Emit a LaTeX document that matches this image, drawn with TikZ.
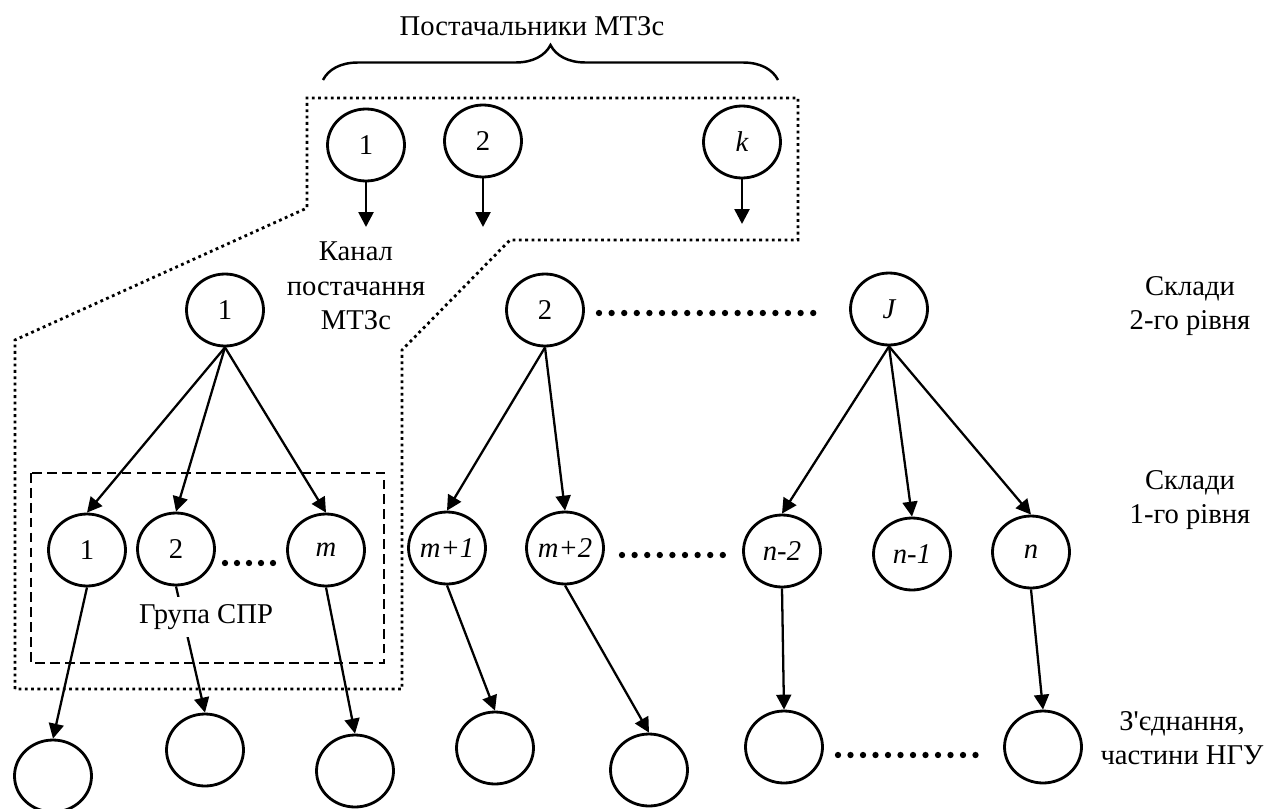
\documentclass[tikz,border=0pt]{standalone}
\usepackage{fontspec}
\setmainfont{Liberation Serif}
\usetikzlibrary{shapes.geometric, arrows.meta, decorations.pathreplacing}

\begin{document}
\begin{tikzpicture}[x=0.02cm, y=-0.02cm, font=\fontsize{16.3}{19.6}\selectfont,
  circ/.style={ellipse, draw, line width=1.6pt, minimum width=1.54cm, minimum height=1.44cm, inner sep=0pt},
  arr/.style={-{Triangle[length=8.5pt,width=8.5pt]}, line width=1.3pt},
  lbl/.style={align=center}]
\useasboundingbox (0,0) rectangle (1274,808);
\draw[dotted, line width=1.6pt] (15,689) -- (15,340) -- (307,208) -- (307,98) -- (798,98) -- (798,240) -- (510,240) -- (402,350) -- (402,689) -- cycle;
\draw[dash pattern=on 5.5pt off 3pt, line width=1pt] (31,473) rectangle (384,663);
\node (title) at (532,26) {Постачальники МТЗс};
\draw[decorate, decoration={brace, amplitude=0.7cm}, line width=1.4pt] (323,80) -- (778,80);
\node[circ] (T1) at (366,145) {1};
\node[circ] (T2) at (483,141) {2};
\node[circ] (Tk) at (742,142) {\itshape k};
\coordinate (a1) at (366,227);
\coordinate (a2) at (483,227);
\coordinate (ak) at (742,224);
\draw[arr, line width=1.5pt] (T1.south) -- (a1);
\draw[arr, line width=1.5pt] (T2.south) -- (a2);
\draw[arr, line width=1.5pt] (Tk.south) -- (ak);
\node[lbl] (chan) at (356,286) {Канал\\постачання\\МТЗс};
\node[circ] (c1) at (225,310) {1};
\node[circ] (c2) at (545,310) {2};
\node[circ] (cJ) at (889,309) {\itshape J};
\node[circ] (d1) at (87,550) {1};
\node[circ] (d2) at (176,549) {2};
\node[circ] (dm) at (326,550) {\itshape m};
\node[circ] (dm1) at (447,548) {\itshape m+1};
\node[circ] (dm2) at (565,548) {\itshape m+2};
\node[circ] (dn2) at (782,551) {\itshape n-2};
\node[circ] (dn1) at (912,554) {\itshape n-1};
\node[circ] (dn) at (1031,552) {\itshape n};
\node[circ] (e1) at (53,776) {};
\node[circ] (e2) at (205,750) {};
\node[circ] (e3) at (355,771) {};
\node[circ] (e4) at (495,748) {};
\node[circ] (e5) at (649,770) {};
\node[circ] (e6) at (784,747) {};
\node[circ] (e7) at (1043,747) {};
\foreach \t in {d1,d2,dm} \draw[arr] (c1.south) -- (\t.north);
\foreach \t in {dm1,dm2} \draw[arr] (c2.south) -- (\t.north);
\foreach \t in {dn2,dn1,dn} \draw[arr] (cJ.south) -- (\t.north);
\draw[arr] (d1.south) -- (e1.north);
\draw[arr] (d2.south) -- (e2.north);
\draw[arr] (dm.south) -- (e3.north);
\draw[arr] (dm1.south) -- (e4.north);
\draw[arr] (dm2.south) -- (e5.north);
\draw[arr] (dn2.south) -- (e6.north);
\draw[arr] (dn.south) -- (e7.north);
\node[fill=white, inner sep=4pt] (grp) at (206,617) {Група СПР};
\foreach \i in {0,...,17} \fill (599+12.6*\i,313) circle (1.8pt);
\foreach \i in {0,...,4} \fill (225+12*\i,563) circle (1.8pt);
\foreach \i in {0,...,8} \fill (622+12.6*\i,555) circle (1.8pt);
\foreach \i in {0,...,11} \fill (838+12.5*\i,755) circle (1.8pt);
\node[lbl] (lvl2) at (1190,306) {Склади\\2-го рівня};
\node[lbl] (lvl1) at (1190,500) {Склади\\1-го рівня};
\node[lbl] (join) at (1182,738) {З\textquotesingle єднання,\\частини НГУ};
\end{tikzpicture}
\end{document}
